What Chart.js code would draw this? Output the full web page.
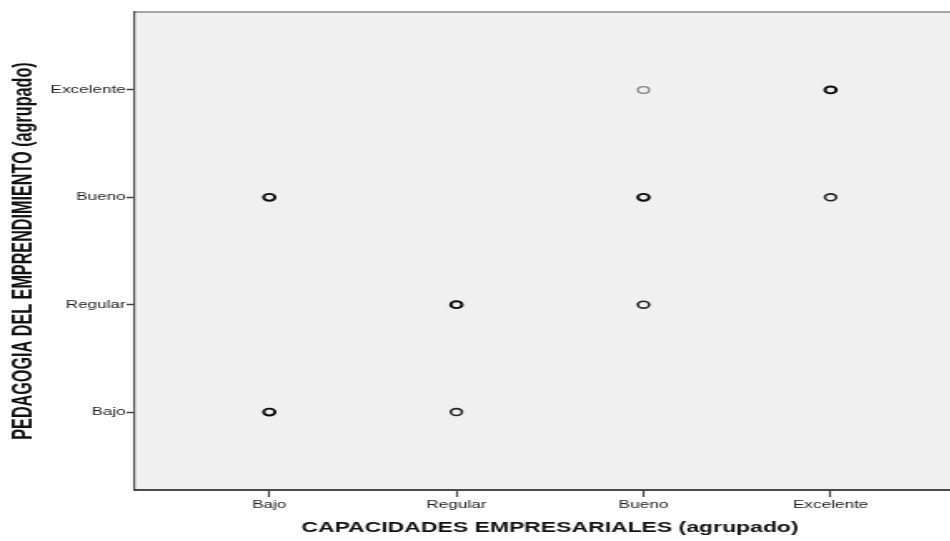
<!DOCTYPE html>
<html>
<head>
<meta charset="utf-8">
<script src="https://cdn.jsdelivr.net/npm/chart.js@4"></script>
<style>
  body { margin: 0; background: #fff; }
  #wrap { width: 950px; height: 541px; overflow: hidden; position: relative; }
  /* the reference picture is stretched sideways, so the canvas is too */
  #c { transform: scaleX(1.665); transform-origin: 0 0; }
</style>
</head>
<body>
<div id="wrap"><canvas id="c" width="586" height="541"></canvas></div>
<script>
const categories = ['Bajo', 'Regular', 'Bueno', 'Excelente'];

// points grouped by how dark they print (darker = more cases on top of each other)
const capacidadesDark = ['Bajo', 'Bajo', 'Regular', 'Bueno', 'Excelente'];
const pedagogiaDark = ['Bajo', 'Bueno', 'Regular', 'Bueno', 'Excelente'];
const capacidadesMid = ['Regular', 'Bueno', 'Excelente'];
const pedagogiaMid = ['Bajo', 'Regular', 'Bueno'];
const capacidadesLight = ['Bueno'];
const pedagogiaLight = ['Excelente'];

const xTitle = 'CAPACIDADES EMPRESARIALES (agrupado)';
const yTitle = 'PEDAGOGIA DEL EMPRENDIMIENTO (agrupado)';

const toPoints = (xs, ys) => xs.map((x, i) => ({
  x: categories.indexOf(x) + 1,
  y: categories.indexOf(ys[i]) + 1,
}));

// grey plot background and the thin top border
const plotBackground = {
  id: 'plotBackground',
  beforeDraw(chart) {
    const { ctx, chartArea: { left, top, right, bottom } } = chart;
    ctx.save();
    ctx.fillStyle = '#f0f0f0';
    ctx.fillRect(left, top, right - left, bottom - top);
    ctx.strokeStyle = '#8a8a8a';
    ctx.lineWidth = 1.5;
    ctx.beginPath();
    ctx.moveTo(left, top);
    ctx.lineTo(right + 5, top);
    ctx.stroke();
    ctx.restore();
  },
};

const fixedTicks = (scale) => {
  scale.ticks = categories.map((c, i) => ({ value: i + 1 }));
};

const ctx = document.getElementById('c').getContext('2d');
new Chart(ctx, {
  type: 'scatter',
  data: {
    datasets: [
      {
        data: toPoints(capacidadesLight, pedagogiaLight),
        borderColor: '#858585',
        borderWidth: 1.3,
        backgroundColor: 'rgba(0,0,0,0)',
        pointRadius: 3.4,
      },
      {
        data: toPoints(capacidadesMid, pedagogiaMid),
        borderColor: '#262626',
        borderWidth: 1.6,
        backgroundColor: 'rgba(0,0,0,0)',
        pointRadius: 3.4,
      },
      {
        data: toPoints(capacidadesDark, pedagogiaDark),
        borderColor: '#0d0d0d',
        borderWidth: 1.9,
        backgroundColor: 'rgba(0,0,0,0)',
        pointRadius: 3.4,
      },
    ],
  },
  options: {
    responsive: false,
    animation: false,
    devicePixelRatio: 1,
    layout: { padding: { top: 12, right: 2, bottom: 0, left: 0 } },
    plugins: {
      legend: { display: false },
      tooltip: { enabled: false },
    },
    scales: {
      x: {
        type: 'linear',
        min: 0.277,
        max: 4.723,
        afterBuildTicks: fixedTicks,
        afterFit: (scale) => { scale.height = 51; },
        grid: {
          drawOnChartArea: false,
          drawTicks: true,
          tickLength: 7,
          tickWidth: 1.2,
          tickColor: '#444',
        },
        border: { display: true, color: '#4a4a4a', width: 2 },
        ticks: {
          padding: 2,
          color: '#222',
          font: { family: 'Liberation Sans, Arial, sans-serif', size: 10.3 },
          callback: (v) => categories[v - 1],
        },
        title: {
          display: true,
          text: xTitle,
          color: '#111',
          font: { family: 'Liberation Sans, Arial, sans-serif', size: 13.8, weight: 'bold' },
          padding: { top: 0, bottom: 5 },
        },
      },
      y: {
        type: 'linear',
        min: 0.274,
        max: 4.726,
        afterBuildTicks: fixedTicks,
        afterFit: (scale) => { scale.width = 80.5; },
        grid: {
          drawOnChartArea: false,
          drawTicks: true,
          tickLength: 4.5,
          tickWidth: 1.5,
          tickColor: '#444',
        },
        border: { display: true, color: '#4a4a4a', width: 1.2 },
        ticks: {
          padding: 0.5,
          color: '#222',
          font: { family: 'Liberation Sans, Arial, sans-serif', size: 10.3 },
          callback: (v) => categories[v - 1],
        },
        title: {
          display: true,
          text: yTitle,
          color: '#111',
          font: { family: 'Liberation Sans, Arial, sans-serif', size: 16.2, weight: 'bold' },
          padding: { top: 5, bottom: 0 },
        },
      },
    },
  },
  plugins: [plotBackground],
});
</script>
</body>
</html>
